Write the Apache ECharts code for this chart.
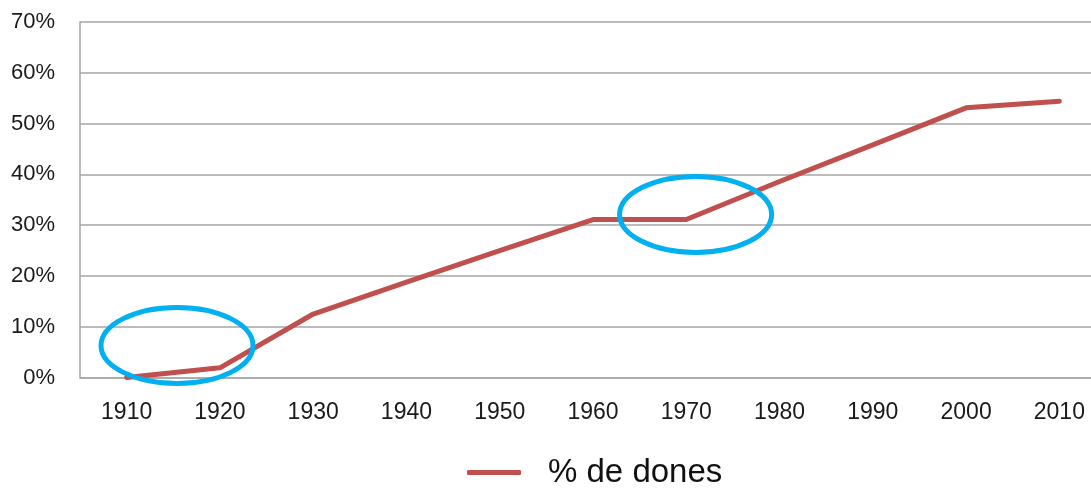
<!DOCTYPE html>
<html>
<head>
<meta charset="utf-8">
<script src="https://cdn.jsdelivr.net/npm/echarts@6/dist/echarts.min.js"></script>
<style>
html,body{margin:0;padding:0;background:#fff;}
#chart{width:1091px;height:489px;}
</style>
</head>
<body>
<div id="chart"></div>
<script>
const years = ['1910','1920','1930','1940','1950','1960','1970','1980','1990','2000','2010'];
const womenPct = [0, 1.9, 12.5, 18.8, 25.0, 31.1, 31.1, 38.6, 45.8, 53.1, 54.4];
const yTicks = [0, 10, 20, 30, 40, 50, 60, 70];
const seriesName = '% de dones';
// highlight ellipses: [category index position, y value]
const highlightCenters = [[0.54, 6.3], [6.1, 32.1]];

const chart = echarts.init(document.getElementById('chart'));
const font = '"Liberation Sans", Arial, sans-serif';
chart.setOption({
  animation: false,
  grid: {left: 80, top: 22, width: 1026, height: 355.5, outerBoundsMode: 'none', containLabel: false},
  legend: {
    data: [{name: seriesName, icon: 'roundRect'}],
    left: 462, top: 451,
    itemWidth: 54, itemHeight: 5,
    textStyle: {fontFamily: font, fontSize: 33, color: '#111', padding: [0,0,0,22]}
  },
  xAxis: {
    type: 'category', data: years, boundaryGap: true,
    axisLine: {lineStyle: {color: '#a6a6a6', width: 1.5}},
    axisTick: {show: false},
    axisLabel: {fontFamily: font, fontSize: 23, color: '#1a1a1a', margin: 24}
  },
  yAxis: {
    type: 'value', min: yTicks[0], max: yTicks[yTicks.length-1], interval: 10,
    axisLine: {show: true, lineStyle: {color: '#a6a6a6', width: 1.5}},
    axisTick: {show: false},
    splitLine: {lineStyle: {color: '#a6a6a6', width: 1.5}},
    axisLabel: {fontFamily: font, fontSize: 22, color: '#1a1a1a', margin: 25, formatter: '{value}%'}
  },
  series: [{
    name: seriesName, type: 'line', data: womenPct, symbol: 'none',
    color: '#C0504D',
    lineStyle: {width: 5, color: '#C0504D', cap: 'round', join: 'round'}
  }]
});

function place() {
  const g = highlightCenters.map(([xi, yv]) => {
    const i0 = Math.floor(xi), f = xi - i0;
    const p0 = chart.convertToPixel({gridIndex: 0}, [i0, yv]);
    const p1 = chart.convertToPixel({gridIndex: 0}, [i0 + 1, yv]);
    return {
      type: 'ellipse', z: 100,
      shape: {cx: p0[0] + f * (p1[0] - p0[0]), cy: p0[1], rx: 76, ry: 38},
      style: {fill: null, stroke: '#00B0F0', lineWidth: 5}
    };
  });
  chart.setOption({graphic: g});
}
place();
</script>
</body>
</html>
